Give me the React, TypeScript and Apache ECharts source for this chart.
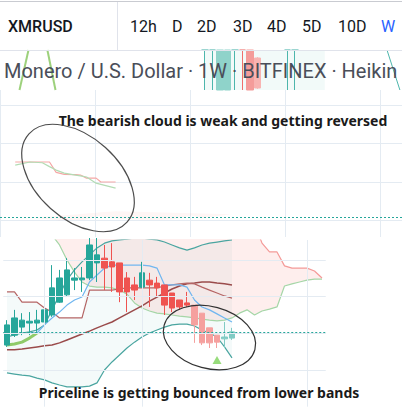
import React, { useEffect, useRef } from 'react';
import * as echarts from 'echarts';

// ---------- main weekly panel (Heikin Ashi) ----------
const weeks = [
  '2017-10-09', '2017-10-16', '2017-10-23', '2017-10-30', '2017-11-06', '2017-11-13', '2017-11-20', '2017-11-27',
  '2017-12-04', '2017-12-11', '2017-12-18', '2017-12-25', '2018-01-01', '2018-01-08', '2018-01-15', '2018-01-22',
  '2018-01-29', '2018-02-05', '2018-02-12', '2018-02-19', '2018-02-26', '2018-03-05', '2018-03-12', '2018-03-19',
  '2018-03-26', '2018-04-02', '2018-04-09', '2018-04-16', '2018-04-23', '2018-04-30', '2018-05-07', '2018-05-14',
  '2018-05-21', '2018-05-28', '2018-06-04', '2018-06-11', '2018-06-18', '2018-06-25', '2018-07-02', '2018-07-09',
  '2018-07-16', '2018-07-23', '2018-07-30',
];

// [open, close, low, high]
const candles = [
  [168, 223, 163, 236], [195, 242, 190, 264], [217, 236, 195, 255], [228, 233, 195, 258],
  [228, 236, 204, 264], [231, 264, 223, 305], [250, 324, 245, 386], [285, 351, 283, 373],
  [305, 373, 299, 405], [345, 351, 318, 378], [346, 351, 313, 381], [351, 441, 345, 460],
  [392, 414, 340, 460], [405, 378, 318, 441], [395, 381, 313, 446], [392, 313, 285, 392],
  [351, 313, 258, 367], [332, 318, 291, 354], [326, 365, 324, 395], [345, 332, 272, 365],
  [337, 324, 299, 354], [332, 277, 250, 332], [310, 269, 258, 310], [291, 272, 264, 291],
  [283, 277, 272, 313], [277, 223, 174, 277], [255, 174, 168, 255], [215, 174, 160, 215],
  [195, 176, 160, 195], [185, 190, 160, 231], [187, 204, 182, 215],
];
const fadedFrom = 25;

const upperBand = [190, 196, 201, 204, 209, 223, 264, 305, 346, 373, 395, 414, 433, 446, 452, 455, 457, 460, 460, 457, 455, 449, 441, 433, 427, 433, 441, 446, 449, 452, 455];
const lowerBand = [92, 89, 86, 84, 78, 73, 65, 59, 54, 54, 54, 56, 65, 100, 122, 141, 160, 176, 190, 201, 209, 217, 223, 225, 225, 220, 209, 201, 190, 163, 133];
const bandFillTop = [313, 313, 285, 285, 285, 269, 258, 242, 242, 242, 242, 414, 433, 446, 452, 455, 457, 460, 460, 457, 455, 449, 441, 433, 427, 433, 441, 446, 449, 452, 455];
const kijun = [313, 313, 285, 285, 285, 269, 258, 242, 242, 242, 242, 318, 318, 318, 318, 321, 324, 324, 324, 324, 324, 329, 332, 335, 337, 335, 326, 318, 310, 302, 296];
const longMA = [155, 155, 157, 160, 163, 166, 168, 174, 182, 190, 198, 206, 215, 223, 231, 242, 253, 264, 275, 288, 299, 310, 321, 329, 335, 337, 340, 340, 337, 335, 332];
const basisLine = [null, null, null, 201, 201, 223, 242, 258, 277, 291, 299, 340, 359, 378, 386, 386, 386, 386, 386, 384, 378, 332, 332, 332, 326, 291, 272, 264, 253, 242, 231];
const fastMA = [168, 171, 176, 187, 201];
const spanA = [null, null, null, null, null, null, 468, 441, 400, 367, 340, 329, 326, 326, 324, 318, 307, 283, 269, 261, 255, 253, 250, 247, 245, 242, 239, 236, 234, 236, 242, 255, 264, 250, 261, 266, 272, 329, 335, 340, 345, 348, 348];
const spanB = [null, null, null, null, null, null, 500, 500, 500, 500, 500, 500, 500, 500, 500, 500, 500, 500, 500, 500, 500, 500, 500, 500, 500, 500, 500, 500, 500, 500, 500, 500, 500, 500, 446, 422, 422, 384, 378, 378, 378, 370, 351];
const lastPrice = 204;
const signalIndex = 28;
const signalValue = 127;
const vGridIndex = [5, 18, 40];
const hGridValues = [100, 200, 300, 400];

// ---------- upper (zoomed-out) panel ----------
const p1X = [3.2, 6.3, 8.9, 10.4, 11.8, 13.5, 15.9, 16.9, 18.2, 20.2, 21.2, 24.3];
const p1Red = [152, 152, 152, 152, 125, 120, 119, 118, 110, 110, 100, 100];
const p1Green = [144, 152, 150, 140, 131, 123, 118, 116, 113, 97, 94, 84];
const p1Price = 9;

// ---------- strip behind the symbol title (visible slice of candles) ----------
const stripCats = ['s01', 's02', 's03', 's04', 's05', 's06', 's07', 's08', 's09', 's10', 's11', 's12', 's13', 's14', 's15', 's16', 's17'];
const stripCandles = [
  [99, 100, 0, 100], [99, 100, 0, 100], [0, 100, 0, 100], [0, 100, 0, 100],
  [99, 100, 0, 100], [100, 99, 0, 100], [100, 0, 0, 100], [80, 5, 3, 82],
  null, null, null, [99, 100, 0, 100], [99, 100, 0, 100], null, null, null, null,
];
const stripLineA = [[9.5, 40], [6.5, 0]];
const stripLineB = [[15.8, 40], [18.5, 0]];
const stripLineC = [[129, 40], [133.3, 0]];

const timeframes = ['12h', 'D', '2D', '3D', '4D', '5D', '10D', 'W'];
const activeTimeframe = 'W';

const GRID = '#e4ebf2';
const UP = '#26a69a';
const DOWN = '#ef5350';

const hidden = {
  axisLine: { show: false },
  axisTick: { show: false },
  axisLabel: { show: false },
  splitLine: { show: false },
};

const solid = (c: string) => ({ color: c, color0: c, borderColor: c, borderColor0: c });

function buildOption() {
  const candleData = candles.map((c, i) => {
    if (i < fadedFrom) return { value: c, itemStyle: solid(c[1] >= c[0] ? UP : DOWN) };
    return { value: c, itemStyle: solid(c[1] >= c[0] ? '#80cbc4' : '#f5a09e') };
  });
  const solidSlots = [2, 3, 6, 7];
  const stripData = stripCandles.map((c, slot) => {
    if (c == null) return ['-', '-', '-', '-'];
    const upC = c[1] >= c[0];
    if (solidSlots.indexOf(slot) >= 0) {
      return { value: c, itemStyle: solid(upC ? '#8fd3ca' : slot === 7 ? '#f8b4b2' : '#f49c9a') };
    }
    return { value: c, itemStyle: solid(upC ? '#4db6ac' : '#ef6f6c') };
  });
  const cloudDiff = spanB.map((b, i) => (b == null || spanA[i] == null ? null : b - (spanA[i] as number)));
  const tintDiff = bandFillTop.map((t, i) => t - lowerBand[i]);
  const p1Base = p1X.map((x, i) => [x, Math.min(p1Red[i], p1Green[i])]);
  const p1Diff = p1X.map((x, i) => [x, Math.abs(p1Red[i] - p1Green[i])]);

  const line = (name: string, data: any[], color: string, width: number, extra: any = {}) => ({
    type: 'line', name, data, xAxisIndex: 4, yAxisIndex: 4, showSymbol: false, symbol: 'none',
    lineStyle: { color, width }, z: 3, ...extra,
  });

  const tfX = [130, 172, 197, 233, 267, 302, 338, 381];

  const graphic: any[] = [
    { type: 'line', z: 50, shape: { x1: 0, y1: 1.5, x2: 402, y2: 1.5 }, style: { stroke: '#c9cbd1', lineWidth: 1 } },
    { type: 'line', z: 50, shape: { x1: 0, y1: 50.5, x2: 402, y2: 50.5 }, style: { stroke: '#e0e3eb', lineWidth: 1 } },
    { type: 'line', z: 50, shape: { x1: 117.5, y1: 2, x2: 117.5, y2: 50 }, style: { stroke: '#e0e3eb', lineWidth: 1 } },
    { type: 'text', z: 50, x: 8, y: 26, style: { text: 'XMRUSD', fill: '#131722', fontSize: 16, fontWeight: 500, fontFamily: 'Roboto', verticalAlign: 'middle' } },
    ...timeframes.map((t, i) => ({
      type: 'text', z: 50, x: tfX[i], y: 26,
      style: { text: t, fill: t === activeTimeframe ? '#2962ff' : '#131722', fontSize: 16, fontFamily: 'Roboto', verticalAlign: 'middle' },
    })),
    { type: 'text', z: 50, x: 4, y: 71, style: { text: 'Monero / U.S. Dollar · 1W · BITFINEX · Heikin Ashi', fill: '#4a4e59', fontSize: 20, fontFamily: 'Roboto', verticalAlign: 'middle' } },
    { type: 'text', z: 60, x: 223, y: 120, style: { text: 'The bearish cloud is weak and getting reversed', fill: '#1a1a1a', fontSize: 14, fontWeight: 'bold', fontFamily: 'Noto Sans', align: 'center', verticalAlign: 'middle' } },
    { type: 'text', z: 60, x: 199, y: 392, style: { text: 'Priceline is getting bounced from lower bands', fill: '#1a1a1a', fontSize: 14, fontWeight: 'bold', fontFamily: 'Noto Sans', align: 'center', verticalAlign: 'middle' } },
    { type: 'ellipse', z: 60, x: 78, y: 178, rotation: -42 * Math.PI / 180, shape: { cx: 0, cy: 0, rx: 66, ry: 41 }, style: { fill: 'transparent', stroke: '#4d4d4d', lineWidth: 1.2 } },
    { type: 'ellipse', z: 60, x: 209.5, y: 337.5, rotation: -15 * Math.PI / 180, shape: { cx: 0, cy: 0, rx: 47, ry: 31 }, style: { fill: 'transparent', stroke: '#333', lineWidth: 1.2 } },
  ];

  return {
    animation: false,
    backgroundColor: '#ffffff',
    textStyle: { fontFamily: 'Roboto' },
    grid: [
      { left: 201, top: 50, width: 127.5, height: 40 },
      { left: 0, top: 50, width: 402, height: 40 },
      { left: -10.7, top: 90, width: 412.7, height: 147 },
      { left: -10.7, top: 105, width: 412.7, height: 115.5 },
      { left: 3.25, top: 240, width: 322.5, height: 166.67 },
    ],
    xAxis: [
      { type: 'category', gridIndex: 0, data: stripCats, ...hidden },
      { type: 'value', gridIndex: 1, min: 0, max: 134, ...hidden },
      { type: 'value', gridIndex: 2, min: 0, max: 84.5, interval: 20, ...hidden, splitLine: { show: true, lineStyle: { color: GRID, width: 1 } } },
      { type: 'value', gridIndex: 3, min: 0, max: 84.5, ...hidden },
      { type: 'category', gridIndex: 4, data: weeks, ...hidden },
    ],
    yAxis: [
      { type: 'value', gridIndex: 0, min: 0, max: 100, ...hidden },
      { type: 'value', gridIndex: 1, min: 0, max: 40, ...hidden },
      { type: 'value', gridIndex: 2, min: 0, max: 1, ...hidden },
      { type: 'value', gridIndex: 3, min: 0, max: 300, interval: 100, ...hidden, splitLine: { show: true, lineStyle: { color: GRID, width: 1 } } },
      { type: 'value', gridIndex: 4, min: 0, max: 454.55, ...hidden },
    ],
    graphic,
    series: [
      // strip
      {
        type: 'candlestick', xAxisIndex: 0, yAxisIndex: 0, data: stripData, barWidth: 7,
        itemStyle: { color: UP, color0: DOWN, borderColor: '#4db6ac', borderColor0: '#ef6f6c' },
        markArea: { silent: true, itemStyle: { color: 'rgba(38,166,154,0.06)' }, data: [[{ xAxis: stripCats[0] }, { xAxis: stripCats[16] }]] },
      },
      { type: 'line', xAxisIndex: 1, yAxisIndex: 1, data: stripLineA, symbol: 'none', lineStyle: { color: 'rgba(124,194,80,0.75)', width: 2 } },
      { type: 'line', xAxisIndex: 1, yAxisIndex: 1, data: stripLineB, symbol: 'none', lineStyle: { color: 'rgba(124,194,80,0.75)', width: 2 } },
      { type: 'line', xAxisIndex: 1, yAxisIndex: 1, data: stripLineC, symbol: 'none', lineStyle: { color: '#4db6ac', width: 1 } },
      // upper panel gridline holder
      { type: 'scatter', xAxisIndex: 2, yAxisIndex: 2, data: [[-5, -5]], symbolSize: 0 },
      // upper panel cloud
      { type: 'line', xAxisIndex: 3, yAxisIndex: 3, data: p1Base, stack: 'p1', symbol: 'none', lineStyle: { opacity: 0 } },
      { type: 'line', xAxisIndex: 3, yAxisIndex: 3, data: p1Diff, stack: 'p1', symbol: 'none', lineStyle: { opacity: 0 }, areaStyle: { color: 'rgba(239,83,80,0.08)' } },
      {
        type: 'line', xAxisIndex: 3, yAxisIndex: 3, data: p1X.map((x, i) => [x, p1Red[i]]), symbol: 'none', lineStyle: { color: '#f5a7a5', width: 1.2 },
        markLine: { silent: true, symbol: ['none', 'none'], label: { show: false }, lineStyle: { color: UP, width: 1, type: [2, 2] }, data: [{ yAxis: p1Price }] },
      },
      { type: 'line', xAxisIndex: 3, yAxisIndex: 3, data: p1X.map((x, i) => [x, p1Green[i]]), symbol: 'none', lineStyle: { color: '#b3dcb4', width: 1.2 } },
      // main panel fills
      {
        type: 'line', xAxisIndex: 4, yAxisIndex: 4, data: lowerBand, stack: 'tint', symbol: 'none', lineStyle: { opacity: 0 }, z: 1,
        markLine: {
          silent: true, symbol: ['none', 'none'], label: { show: false }, lineStyle: { color: GRID, width: 1, type: 'solid' },
          data: [...hGridValues.map((v) => ({ yAxis: v })), ...vGridIndex.map((i) => ({ xAxis: weeks[i] }))],
        },
      },
      { type: 'line', xAxisIndex: 4, yAxisIndex: 4, data: tintDiff, stack: 'tint', symbol: 'none', lineStyle: { opacity: 0 }, areaStyle: { color: 'rgba(0,150,136,0.06)' }, z: 1 },
      { type: 'line', xAxisIndex: 4, yAxisIndex: 4, data: spanA, stack: 'cloud', symbol: 'none', lineStyle: { opacity: 0 }, z: 1 },
      { type: 'line', xAxisIndex: 4, yAxisIndex: 4, data: cloudDiff, stack: 'cloud', symbol: 'none', lineStyle: { opacity: 0 }, areaStyle: { color: 'rgba(244,67,54,0.13)' }, z: 1 },
      // main panel lines
      line('spanA', spanA, '#a5d6a7', 1.2),
      line('spanB', spanB, '#f49a98', 1.2),
      line('upper', upperBand, '#4aa5a0', 1.2),
      line('lower', lowerBand, '#4aa5a0', 1.2),
      line('longMA', longMA, '#9a4b4b', 1.5),
      line('kijun', kijun, '#b56565', 1.2),
      line('basis', basisLine, '#70b6f0', 1.2),
      line('fast', fastMA, 'rgba(124,194,80,0.85)', 3),
      {
        type: 'candlestick', xAxisIndex: 4, yAxisIndex: 4, data: candleData, barWidth: 6, z: 4,
        itemStyle: { color: UP, color0: DOWN, borderColor: UP, borderColor0: DOWN, borderWidth: 1 },
        markLine: { silent: true, symbol: ['none', 'none'], label: { show: false }, lineStyle: { color: UP, width: 1, type: [2, 2] }, data: [{ yAxis: lastPrice }] },
      },
      {
        type: 'scatter', xAxisIndex: 4, yAxisIndex: 4, data: [[weeks[signalIndex], signalValue]],
        symbol: 'triangle', symbolSize: [9, 8], itemStyle: { color: '#7dd35a' }, z: 5,
      },
    ],
  };
}

export default function App() {
  const ref = useRef<HTMLDivElement>(null);
  useEffect(() => {
    if (!ref.current) return;
    const chart = echarts.init(ref.current, null, { renderer: 'svg' });
    chart.setOption(buildOption() as any);
    return () => chart.dispose();
  }, []);
  return <div ref={ref} style={{ position: 'fixed', left: 0, top: 0, width: 402, height: 408, background: '#fff' }} />;
}
